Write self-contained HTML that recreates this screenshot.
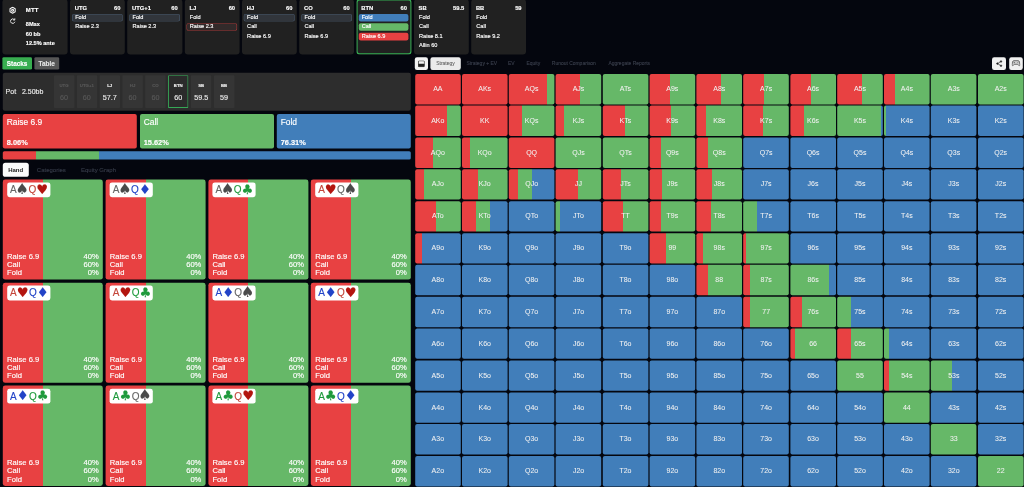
<!DOCTYPE html><html lang="en"><head><meta charset="utf-8"><title>Preflop strategy</title><style>
*{box-sizing:border-box;margin:0;padding:0}
html,body{width:1024px;height:487px;overflow:hidden;background:#04060e}
body{font-family:"Liberation Sans",sans-serif;color:#fff;-webkit-text-stroke:.35px currentColor}
#app{position:absolute;left:0;top:0;width:2560px;height:1218px;transform:scale(.4);transform-origin:0 0;background:#04060e;overflow:hidden}
.abs{position:absolute}
.card{position:absolute;top:-2px;height:138px;width:137.25px;background:#212121;border-radius:8px;font-size:14px}
.card.active{box-shadow:inset 0 0 0 3px #35ad52}
.card .hd{position:absolute;left:12px;right:11px;top:11.5px;font-weight:700;font-size:14.5px;line-height:18px;display:flex;justify-content:space-between}
.card .act{position:absolute;left:4.5px;right:5.5px;height:19px;line-height:16.5px;padding-left:8.5px;border-radius:5px;font-size:14px;white-space:nowrap}
.card .act.sel{background:#31353b;box-shadow:inset 0 0 0 1.5px #46586d}
.card .act.selr{background:#322a2a;box-shadow:inset 0 0 0 1.5px #c23a3a}
.card .act.b{background:#417eba}.card .act.g{background:#66b868}.card .act.r{background:#e84142}
.btn{position:absolute;top:143px;height:30.5px;border-radius:3.5px;font-weight:700;font-size:16px;line-height:31px;text-align:center}
.pot{position:absolute;left:7px;top:182px;width:1020px;height:95px;background:#2d2d2d;border-radius:5px;color:#ececec}
.stk{position:absolute;top:5.5px;width:51px;height:82px;background:#353535;border-radius:2px;text-align:center}
.stk .l{position:absolute;left:0;right:0;top:19px;font-size:10.8px;font-weight:700;line-height:14px}
.stk .v{position:absolute;left:0;right:0;top:45px;font-size:18px;line-height:22px}
.stk.dim{color:#585858}
.stk.cur{box-shadow:inset 0 0 0 2.2px #36a856;background:#2b2b2b}
.abox{position:absolute;top:284.5px;height:86.5px;width:334.8px;border-radius:5px}
.abox .n{position:absolute;left:9.5px;top:9px;font-size:21px;line-height:24px}
.abox .p{position:absolute;left:9.5px;top:61.5px;font-size:18.5px;line-height:20px;font-weight:700}
.tab{position:absolute;top:406.5px;height:35px;line-height:35px;font-size:15px;color:#353a47;white-space:nowrap}
.tab.on{background:#fbfbfb;color:#222;border-radius:6.5px;text-align:center;font-weight:700;-webkit-text-stroke:0}
.hc{position:absolute;width:250px;height:250.5px;border-radius:6px;background:linear-gradient(90deg,#e84142 0 40%,#66b868 40% 100%);font-size:19px}
.hc .pill{position:absolute;left:10.5px;top:7.5px;width:108px;height:37px;background:#fff;border-radius:6px;font-size:25px;line-height:37px;white-space:nowrap;padding-left:7.5px;-webkit-text-stroke:.3px currentColor}
.hc .rows{position:absolute;left:10.5px;right:10.5px;top:182.5px;line-height:20.6px}
.hc .rows div{display:flex;justify-content:space-between}
.s{font-family:"DejaVu Sans","Liberation Sans",sans-serif;font-size:33px;line-height:30px;vertical-align:-2px;letter-spacing:-1px}
.cs{color:#4a4a4a;font-size:37px;margin:0 -2px 0 -3px}.ch{color:#b3150f}.cd{color:#2243c7}.cc{color:#1f9a3c}
.rs{color:#666}.rh{color:#c4453a}.rd{color:#2243c7}.rc{color:#1f9a3c}
.tb{position:absolute;top:143px;height:31.5px;border-radius:5.5px;background:#ebebeb}
.tt{position:absolute;top:143px;height:31.5px;line-height:31.5px;font-size:12.4px;color:#383d4a;white-space:nowrap}
.mc{position:absolute;width:114px;height:76.2px;border-radius:5px;font-size:17.5px;line-height:75.4px;text-align:center;color:#f2f2f2;-webkit-text-stroke:.1px currentColor}
</style></head><body><div id="app">
<div class="card" style="left:6px;width:163px">
<svg class="abs" style="left:15.5px;top:17.5px" width="19" height="19" viewBox="0 0 24 24" fill="none" stroke="#f4f4f4" stroke-width="3.3" stroke-linejoin="round"><path d="M12 2.5l8.2 4.75v9.5L12 21.5l-8.2-4.75v-9.5z"/><circle cx="12" cy="12" r="3.2"/></svg>
<svg class="abs" style="left:17.5px;top:46.5px" width="16" height="16" viewBox="0 0 24 24" fill="none" stroke="#f4f4f4" stroke-width="3.4" stroke-linecap="round" stroke-linejoin="round"><path d="M19.5 15.5A8.5 8.5 0 1 1 18 6"/><path d="M19.500 2.500v5h-5" stroke-width="3"/></svg>
<div class="abs" style="left:58.5px;top:16px;font-size:15px;font-weight:700;line-height:20px;letter-spacing:.5px">MTT</div>
<div class="abs" style="left:58.5px;top:49px;font-size:14px;font-weight:700;line-height:24.5px;white-space:nowrap"><div>8Max</div><div>60 bb</div><div>12.5% ante</div></div>
</div>
<div class="card" style="left:175px">
<div class="hd" style="margin:0px 0px 0 0px"><span>UTG</span><span>60</span></div>
<div class="act sel" style="top:37px">Fold</div>
<div class="act " style="top:60.3px">Raise 2.3</div>
</div>
<div class="card" style="left:318.25px">
<div class="hd" style="margin:0px 0px 0 0px"><span>UTG+1</span><span>60</span></div>
<div class="act sel" style="top:37px">Fold</div>
<div class="act " style="top:60.3px">Raise 2.3</div>
</div>
<div class="card" style="left:461.5px">
<div class="hd" style="margin:0px 0px 0 0px"><span>LJ</span><span>60</span></div>
<div class="act " style="top:37px">Fold</div>
<div class="act selr" style="top:60.3px">Raise 2.3</div>
</div>
<div class="card" style="left:604.75px">
<div class="hd" style="margin:0px 0px 0 0px"><span>HJ</span><span>60</span></div>
<div class="act sel" style="top:37px">Fold</div>
<div class="act " style="top:60.3px">Call</div>
<div class="act " style="top:83.6px">Raise 6.9</div>
</div>
<div class="card" style="left:748px">
<div class="hd" style="margin:0px 0px 0 0px"><span>CO</span><span>60</span></div>
<div class="act sel" style="top:37px">Fold</div>
<div class="act " style="top:60.3px">Call</div>
<div class="act " style="top:83.6px">Raise 6.9</div>
</div>
<div class="card active" style="left:891.25px">
<div class="hd" style="margin:0px 0px 0 0px"><span>BTN</span><span>60</span></div>
<div class="act b" style="top:37px;left:5.5px;right:7.5px;padding-left:7.5px">Fold</div>
<div class="act g" style="top:60.3px;left:5.5px;right:7.5px;padding-left:7.5px">Call</div>
<div class="act r" style="top:83.6px;left:5.5px;right:7.5px;padding-left:7.5px">Raise 6.9</div>
</div>
<div class="card" style="left:1034.5px">
<div class="hd" style="margin:0px 0px 0 0px"><span>SB</span><span>59.5</span></div>
<div class="act " style="top:37px">Fold</div>
<div class="act " style="top:60.3px">Call</div>
<div class="act " style="top:83.6px">Raise 8.1</div>
<div class="act " style="top:106.9px">Allin 60</div>
</div>
<div class="card" style="left:1177.75px">
<div class="hd" style="margin:0px 0px 0 0px"><span>BB</span><span>59</span></div>
<div class="act " style="top:37px">Fold</div>
<div class="act " style="top:60.3px">Call</div>
<div class="act " style="top:83.6px">Raise 9.2</div>
</div>
<div class="btn" style="left:6px;width:73.5px;background:#38ae50">Stacks</div>
<div class="btn" style="left:86px;width:61.5px;background:#565656;color:#e4e4e4">Table</div>
<div class="pot"><div class="abs" style="left:7px;top:35px;font-size:17.5px;line-height:22px;white-space:pre">Pot   2.50bb</div>
<div class="stk dim" style="left:127.5px"><div class="l">UTG</div><div class="v">60</div></div>
<div class="stk dim" style="left:184.65px"><div class="l">UTG+1</div><div class="v">60</div></div>
<div class="stk " style="left:241.8px"><div class="l">LJ</div><div class="v">57.7</div></div>
<div class="stk dim" style="left:298.95px"><div class="l">HJ</div><div class="v">60</div></div>
<div class="stk dim" style="left:356.1px"><div class="l">CO</div><div class="v">60</div></div>
<div class="stk cur" style="left:413.25px"><div class="l">BTN</div><div class="v">60</div></div>
<div class="stk " style="left:470.4px"><div class="l">SB</div><div class="v">59.5</div></div>
<div class="stk " style="left:527.55px"><div class="l">BB</div><div class="v">59</div></div>
</div>
<div class="abox" style="left:7.4px;background:#e84142"><div class="n">Raise 6.9</div><div class="p">8.06%</div></div>
<div class="abox" style="left:349.8px;background:#66b868"><div class="n">Call</div><div class="p">15.62%</div></div>
<div class="abox" style="left:692.2px;background:#417eba"><div class="n">Fold</div><div class="p">76.31%</div></div>
<div class="abs" style="left:7.4px;top:378.25px;width:1019.6px;height:20.5px;border-radius:4px;background:linear-gradient(90deg,#e84142 0 8.06%,#66b868 8.06% 23.68%,#417eba 23.68% 100%)"></div>
<div class="tab on" style="left:7px;width:64.5px">Hand</div>
<div class="tab" style="left:92px">Categories</div>
<div class="tab" style="left:202.5px">Equity Graph</div>
<div class="hc" style="left:7.25px;top:448.75px"><div class="pill"><span class="rs">A</span><span class="s cs">♠</span><span class="rh" style="margin-left:2px">Q</span><span class="s ch">♥</span></div>
<div class="rows"><div><span>Raise 6.9</span><span>40%</span></div><div><span>Call</span><span>60%</span></div><div><span>Fold</span><span>0%</span></div></div></div>
<div class="hc" style="left:263.95px;top:448.75px"><div class="pill"><span class="rs">A</span><span class="s cs">♠</span><span class="rd" style="margin-left:2px">Q</span><span class="s cd">♦</span></div>
<div class="rows"><div><span>Raise 6.9</span><span>40%</span></div><div><span>Call</span><span>60%</span></div><div><span>Fold</span><span>0%</span></div></div></div>
<div class="hc" style="left:520.65px;top:448.75px"><div class="pill"><span class="rs">A</span><span class="s cs">♠</span><span class="rc" style="margin-left:2px">Q</span><span class="s cc">♣</span></div>
<div class="rows"><div><span>Raise 6.9</span><span>40%</span></div><div><span>Call</span><span>60%</span></div><div><span>Fold</span><span>0%</span></div></div></div>
<div class="hc" style="left:777.35px;top:448.75px"><div class="pill"><span class="rh">A</span><span class="s ch">♥</span><span class="rs" style="margin-left:2px">Q</span><span class="s cs">♠</span></div>
<div class="rows"><div><span>Raise 6.9</span><span>40%</span></div><div><span>Call</span><span>60%</span></div><div><span>Fold</span><span>0%</span></div></div></div>
<div class="hc" style="left:7.25px;top:706.5px"><div class="pill"><span class="rh">A</span><span class="s ch">♥</span><span class="rd" style="margin-left:2px">Q</span><span class="s cd">♦</span></div>
<div class="rows"><div><span>Raise 6.9</span><span>40%</span></div><div><span>Call</span><span>60%</span></div><div><span>Fold</span><span>0%</span></div></div></div>
<div class="hc" style="left:263.95px;top:706.5px"><div class="pill"><span class="rh">A</span><span class="s ch">♥</span><span class="rc" style="margin-left:2px">Q</span><span class="s cc">♣</span></div>
<div class="rows"><div><span>Raise 6.9</span><span>40%</span></div><div><span>Call</span><span>60%</span></div><div><span>Fold</span><span>0%</span></div></div></div>
<div class="hc" style="left:520.65px;top:706.5px"><div class="pill"><span class="rd">A</span><span class="s cd">♦</span><span class="rs" style="margin-left:2px">Q</span><span class="s cs">♠</span></div>
<div class="rows"><div><span>Raise 6.9</span><span>40%</span></div><div><span>Call</span><span>60%</span></div><div><span>Fold</span><span>0%</span></div></div></div>
<div class="hc" style="left:777.35px;top:706.5px"><div class="pill"><span class="rd">A</span><span class="s cd">♦</span><span class="rh" style="margin-left:2px">Q</span><span class="s ch">♥</span></div>
<div class="rows"><div><span>Raise 6.9</span><span>40%</span></div><div><span>Call</span><span>60%</span></div><div><span>Fold</span><span>0%</span></div></div></div>
<div class="hc" style="left:7.25px;top:964.25px"><div class="pill"><span class="rd">A</span><span class="s cd">♦</span><span class="rc" style="margin-left:2px">Q</span><span class="s cc">♣</span></div>
<div class="rows"><div><span>Raise 6.9</span><span>40%</span></div><div><span>Call</span><span>60%</span></div><div><span>Fold</span><span>0%</span></div></div></div>
<div class="hc" style="left:263.95px;top:964.25px"><div class="pill"><span class="rc">A</span><span class="s cc">♣</span><span class="rs" style="margin-left:2px">Q</span><span class="s cs">♠</span></div>
<div class="rows"><div><span>Raise 6.9</span><span>40%</span></div><div><span>Call</span><span>60%</span></div><div><span>Fold</span><span>0%</span></div></div></div>
<div class="hc" style="left:520.65px;top:964.25px"><div class="pill"><span class="rc">A</span><span class="s cc">♣</span><span class="rh" style="margin-left:2px">Q</span><span class="s ch">♥</span></div>
<div class="rows"><div><span>Raise 6.9</span><span>40%</span></div><div><span>Call</span><span>60%</span></div><div><span>Fold</span><span>0%</span></div></div></div>
<div class="hc" style="left:777.35px;top:964.25px"><div class="pill"><span class="rc">A</span><span class="s cc">♣</span><span class="rd" style="margin-left:2px">Q</span><span class="s cd">♦</span></div>
<div class="rows"><div><span>Raise 6.9</span><span>40%</span></div><div><span>Call</span><span>60%</span></div><div><span>Fold</span><span>0%</span></div></div></div>
<div class="tb" style="left:1037.25px;width:32.5px;background:#f3f3f3"><svg class="abs" style="left:7.75px;top:7.5px" width="17" height="17" viewBox="0 0 18 18"><rect x="1" y="1" width="16" height="16" rx="2.5" fill="none" stroke="#222" stroke-width="2"/><rect x="1" y="9" width="16" height="8" rx="1.5" fill="#222"/></svg></div>
<div class="tb" style="left:1075.5px;width:76.5px"></div>
<div class="tt" style="left:1075.5px;width:76.5px;text-align:center;color:#5c5c5c;-webkit-text-stroke:.15px currentColor">Strategy</div>
<div class="tt" style="left:1166px">Strategy + EV</div>
<div class="tt" style="left:1270px">EV</div>
<div class="tt" style="left:1316px">Equity</div>
<div class="tt" style="left:1379.5px">Runout Comparison</div>
<div class="tt" style="left:1521px">Aggregate Reports</div>
<div class="tb" style="left:2480.25px;width:35px;background:#f0f0f0"><svg class="abs" style="left:8.5px;top:6.5px" width="18" height="18" viewBox="0 0 24 24" fill="#222" stroke="#222" stroke-width="2.2"><circle cx="18" cy="5" r="2.6"/><circle cx="6" cy="12" r="2.6"/><circle cx="18" cy="19" r="2.6"/><path d="M8.3 10.7l7.4-4.3M8.3 13.3l7.4 4.3" fill="none"/></svg></div>
<div class="tb" style="left:2522.75px;width:34.5px;background:#f0f0f0"><svg class="abs" style="left:6.5px;top:5.5px" width="22" height="19" viewBox="0 0 24 20" fill="#cdcdcd" stroke="#5a5a5a" stroke-width="2.3" stroke-linejoin="round"><path d="M6.500 2.500h11c2.200 0 3.500 1.400 4 3.600l1.300 7.400c.4 2.300-1.900 3.600-3.500 2L16.500 12.500h-9l-2.800 3c-1.600 1.600-3.900.3-3.500-2l1.300-7.400c.5-2.200 1.800-3.600 4-3.600z"/><path d="M7.500 6v3.400M5.800 7.700h3.400M15.500 7.700h2.600" stroke="#5a5a5a" stroke-width="1.500" fill="none"/></svg></div>
<div class="mc" style="left:1037.5px;top:184.5px;background:#e84142">AA</div>
<div class="mc" style="left:1154.77px;top:184.5px;background:#e84142">AKs</div>
<div class="mc" style="left:1272.04px;top:184.5px;background:linear-gradient(90deg,#e84142 0 84.5%,#66b868 84.5% 100%)">AQs</div>
<div class="mc" style="left:1389.31px;top:184.5px;background:linear-gradient(90deg,#e84142 0 54%,#66b868 54% 100%)">AJs</div>
<div class="mc" style="left:1506.58px;top:184.5px;background:#66b868">ATs</div>
<div class="mc" style="left:1623.85px;top:184.5px;background:linear-gradient(90deg,#e84142 0 45%,#66b868 45% 100%)">A9s</div>
<div class="mc" style="left:1741.12px;top:184.5px;background:linear-gradient(90deg,#e84142 0 54.5%,#66b868 54.5% 100%)">A8s</div>
<div class="mc" style="left:1858.39px;top:184.5px;background:linear-gradient(90deg,#e84142 0 45.5%,#66b868 45.5% 100%)">A7s</div>
<div class="mc" style="left:1975.66px;top:184.5px;background:linear-gradient(90deg,#e84142 0 45.5%,#66b868 45.5% 100%)">A6s</div>
<div class="mc" style="left:2092.93px;top:184.5px;background:linear-gradient(90deg,#e84142 0 54.5%,#66b868 54.5% 100%)">A5s</div>
<div class="mc" style="left:2210.2px;top:184.5px;background:linear-gradient(90deg,#e84142 0 25%,#66b868 25% 100%)">A4s</div>
<div class="mc" style="left:2327.47px;top:184.5px;background:#66b868">A3s</div>
<div class="mc" style="left:2444.74px;top:184.5px;background:#66b868">A2s</div>
<div class="mc" style="left:1037.5px;top:264.1px;background:linear-gradient(90deg,#e84142 0 70%,#66b868 70% 100%)">AKo</div>
<div class="mc" style="left:1154.77px;top:264.1px;background:#e84142">KK</div>
<div class="mc" style="left:1272.04px;top:264.1px;background:linear-gradient(90deg,#e84142 0 29.5%,#66b868 29.5% 100%)">KQs</div>
<div class="mc" style="left:1389.31px;top:264.1px;background:linear-gradient(90deg,#e84142 0 19%,#66b868 19% 100%)">KJs</div>
<div class="mc" style="left:1506.58px;top:264.1px;background:linear-gradient(90deg,#e84142 0 49.5%,#66b868 49.5% 100%)">KTs</div>
<div class="mc" style="left:1623.85px;top:264.1px;background:linear-gradient(90deg,#e84142 0 47%,#66b868 47% 100%)">K9s</div>
<div class="mc" style="left:1741.12px;top:264.1px;background:linear-gradient(90deg,#e84142 0 22%,#66b868 22% 100%)">K8s</div>
<div class="mc" style="left:1858.39px;top:264.1px;background:linear-gradient(90deg,#e84142 0 43%,#66b868 43% 100%)">K7s</div>
<div class="mc" style="left:1975.66px;top:264.1px;background:linear-gradient(90deg,#e84142 0 30%,#66b868 30% 100%)">K6s</div>
<div class="mc" style="left:2092.93px;top:264.1px;background:linear-gradient(90deg,#66b868 0% 96%,#417eba 96% 100%)">K5s</div>
<div class="mc" style="left:2210.2px;top:264.1px;background:linear-gradient(90deg,#66b868 0% 4%,#417eba 4% 100%)">K4s</div>
<div class="mc" style="left:2327.47px;top:264.1px;background:#417eba">K3s</div>
<div class="mc" style="left:2444.74px;top:264.1px;background:#417eba">K2s</div>
<div class="mc" style="left:1037.5px;top:343.7px;background:linear-gradient(90deg,#e84142 0 40%,#66b868 40% 100%)">AQo</div>
<div class="mc" style="left:1154.77px;top:343.7px;background:linear-gradient(90deg,#e84142 0 18%,#66b868 18% 100%)">KQo</div>
<div class="mc" style="left:1272.04px;top:343.7px;background:#e84142">QQ</div>
<div class="mc" style="left:1389.31px;top:343.7px;background:#66b868">QJs</div>
<div class="mc" style="left:1506.58px;top:343.7px;background:#66b868">QTs</div>
<div class="mc" style="left:1623.85px;top:343.7px;background:linear-gradient(90deg,#e84142 0 24.5%,#66b868 24.5% 100%)">Q9s</div>
<div class="mc" style="left:1741.12px;top:343.7px;background:linear-gradient(90deg,#e84142 0 24.5%,#66b868 24.5% 100%)">Q8s</div>
<div class="mc" style="left:1858.39px;top:343.7px;background:#417eba">Q7s</div>
<div class="mc" style="left:1975.66px;top:343.7px;background:#417eba">Q6s</div>
<div class="mc" style="left:2092.93px;top:343.7px;background:#417eba">Q5s</div>
<div class="mc" style="left:2210.2px;top:343.7px;background:#417eba">Q4s</div>
<div class="mc" style="left:2327.47px;top:343.7px;background:#417eba">Q3s</div>
<div class="mc" style="left:2444.74px;top:343.7px;background:#417eba">Q2s</div>
<div class="mc" style="left:1037.5px;top:423.3px;background:linear-gradient(90deg,#e84142 0 19%,#66b868 19% 100%)">AJo</div>
<div class="mc" style="left:1154.77px;top:423.3px;background:linear-gradient(90deg,#e84142 0 35%,#66b868 35% 100%)">KJo</div>
<div class="mc" style="left:1272.04px;top:423.3px;background:linear-gradient(90deg,#e84142 0 20%,#66b868 20% 51%,#417eba 51% 100%)">QJo</div>
<div class="mc" style="left:1389.31px;top:423.3px;background:linear-gradient(90deg,#e84142 0 50%,#66b868 50% 100%)">JJ</div>
<div class="mc" style="left:1506.58px;top:423.3px;background:linear-gradient(90deg,#e84142 0 40%,#66b868 40% 100%)">JTs</div>
<div class="mc" style="left:1623.85px;top:423.3px;background:linear-gradient(90deg,#e84142 0 27.5%,#66b868 27.5% 100%)">J9s</div>
<div class="mc" style="left:1741.12px;top:423.3px;background:linear-gradient(90deg,#e84142 0 35%,#66b868 35% 100%)">J8s</div>
<div class="mc" style="left:1858.39px;top:423.3px;background:#417eba">J7s</div>
<div class="mc" style="left:1975.66px;top:423.3px;background:#417eba">J6s</div>
<div class="mc" style="left:2092.93px;top:423.3px;background:#417eba">J5s</div>
<div class="mc" style="left:2210.2px;top:423.3px;background:#417eba">J4s</div>
<div class="mc" style="left:2327.47px;top:423.3px;background:#417eba">J3s</div>
<div class="mc" style="left:2444.74px;top:423.3px;background:#417eba">J2s</div>
<div class="mc" style="left:1037.5px;top:502.9px;background:linear-gradient(90deg,#e84142 0 45%,#66b868 45% 100%)">ATo</div>
<div class="mc" style="left:1154.77px;top:502.9px;background:linear-gradient(90deg,#e84142 0 30.5%,#66b868 30.5% 61.5%,#417eba 61.5% 100%)">KTo</div>
<div class="mc" style="left:1272.04px;top:502.9px;background:#417eba">QTo</div>
<div class="mc" style="left:1389.31px;top:502.9px;background:linear-gradient(90deg,#66b868 0% 10%,#417eba 10% 100%)">JTo</div>
<div class="mc" style="left:1506.58px;top:502.9px;background:linear-gradient(90deg,#e84142 0 45%,#66b868 45% 100%)">TT</div>
<div class="mc" style="left:1623.85px;top:502.9px;background:linear-gradient(90deg,#e84142 0 24.5%,#66b868 24.5% 100%)">T9s</div>
<div class="mc" style="left:1741.12px;top:502.9px;background:linear-gradient(90deg,#e84142 0 32.5%,#66b868 32.5% 100%)">T8s</div>
<div class="mc" style="left:1858.39px;top:502.9px;background:linear-gradient(90deg,#66b868 0% 30.5%,#417eba 30.5% 100%)">T7s</div>
<div class="mc" style="left:1975.66px;top:502.9px;background:#417eba">T6s</div>
<div class="mc" style="left:2092.93px;top:502.9px;background:#417eba">T5s</div>
<div class="mc" style="left:2210.2px;top:502.9px;background:#417eba">T4s</div>
<div class="mc" style="left:2327.47px;top:502.9px;background:#417eba">T3s</div>
<div class="mc" style="left:2444.74px;top:502.9px;background:#417eba">T2s</div>
<div class="mc" style="left:1037.5px;top:582.5px;background:linear-gradient(90deg,#e84142 0 15%,#417eba 15% 100%)">A9o</div>
<div class="mc" style="left:1154.77px;top:582.5px;background:#417eba">K9o</div>
<div class="mc" style="left:1272.04px;top:582.5px;background:#417eba">Q9o</div>
<div class="mc" style="left:1389.31px;top:582.5px;background:#417eba">J9o</div>
<div class="mc" style="left:1506.58px;top:582.5px;background:#417eba">T9o</div>
<div class="mc" style="left:1623.85px;top:582.5px;background:linear-gradient(90deg,#e84142 0 35%,#66b868 35% 100%)">99</div>
<div class="mc" style="left:1741.12px;top:582.5px;background:linear-gradient(90deg,#e84142 0 15%,#66b868 15% 100%)">98s</div>
<div class="mc" style="left:1858.39px;top:582.5px;background:linear-gradient(90deg,#e84142 0 6.5%,#66b868 6.5% 100%)">97s</div>
<div class="mc" style="left:1975.66px;top:582.5px;background:#417eba">96s</div>
<div class="mc" style="left:2092.93px;top:582.5px;background:#417eba">95s</div>
<div class="mc" style="left:2210.2px;top:582.5px;background:#417eba">94s</div>
<div class="mc" style="left:2327.47px;top:582.5px;background:#417eba">93s</div>
<div class="mc" style="left:2444.74px;top:582.5px;background:#417eba">92s</div>
<div class="mc" style="left:1037.5px;top:662.1px;background:#417eba">A8o</div>
<div class="mc" style="left:1154.77px;top:662.1px;background:#417eba">K8o</div>
<div class="mc" style="left:1272.04px;top:662.1px;background:#417eba">Q8o</div>
<div class="mc" style="left:1389.31px;top:662.1px;background:#417eba">J8o</div>
<div class="mc" style="left:1506.58px;top:662.1px;background:#417eba">T8o</div>
<div class="mc" style="left:1623.85px;top:662.1px;background:#417eba">98o</div>
<div class="mc" style="left:1741.12px;top:662.1px;background:linear-gradient(90deg,#e84142 0 25.5%,#66b868 25.5% 100%)">88</div>
<div class="mc" style="left:1858.39px;top:662.1px;background:linear-gradient(90deg,#e84142 0 14.5%,#66b868 14.5% 100%)">87s</div>
<div class="mc" style="left:1975.66px;top:662.1px;background:linear-gradient(90deg,#66b868 0% 85.5%,#417eba 85.5% 100%)">86s</div>
<div class="mc" style="left:2092.93px;top:662.1px;background:#417eba">85s</div>
<div class="mc" style="left:2210.2px;top:662.1px;background:#417eba">84s</div>
<div class="mc" style="left:2327.47px;top:662.1px;background:#417eba">83s</div>
<div class="mc" style="left:2444.74px;top:662.1px;background:#417eba">82s</div>
<div class="mc" style="left:1037.5px;top:741.7px;background:#417eba">A7o</div>
<div class="mc" style="left:1154.77px;top:741.7px;background:#417eba">K7o</div>
<div class="mc" style="left:1272.04px;top:741.7px;background:#417eba">Q7o</div>
<div class="mc" style="left:1389.31px;top:741.7px;background:#417eba">J7o</div>
<div class="mc" style="left:1506.58px;top:741.7px;background:#417eba">T7o</div>
<div class="mc" style="left:1623.85px;top:741.7px;background:#417eba">97o</div>
<div class="mc" style="left:1741.12px;top:741.7px;background:#417eba">87o</div>
<div class="mc" style="left:1858.39px;top:741.7px;background:linear-gradient(90deg,#e84142 0 15%,#66b868 15% 100%)">77</div>
<div class="mc" style="left:1975.66px;top:741.7px;background:linear-gradient(90deg,#e84142 0 24.5%,#66b868 24.5% 100%)">76s</div>
<div class="mc" style="left:2092.93px;top:741.7px;background:linear-gradient(90deg,#66b868 0% 30.5%,#417eba 30.5% 100%)">75s</div>
<div class="mc" style="left:2210.2px;top:741.7px;background:#417eba">74s</div>
<div class="mc" style="left:2327.47px;top:741.7px;background:#417eba">73s</div>
<div class="mc" style="left:2444.74px;top:741.7px;background:#417eba">72s</div>
<div class="mc" style="left:1037.5px;top:821.3px;background:#417eba">A6o</div>
<div class="mc" style="left:1154.77px;top:821.3px;background:#417eba">K6o</div>
<div class="mc" style="left:1272.04px;top:821.3px;background:#417eba">Q6o</div>
<div class="mc" style="left:1389.31px;top:821.3px;background:#417eba">J6o</div>
<div class="mc" style="left:1506.58px;top:821.3px;background:#417eba">T6o</div>
<div class="mc" style="left:1623.85px;top:821.3px;background:#417eba">96o</div>
<div class="mc" style="left:1741.12px;top:821.3px;background:#417eba">86o</div>
<div class="mc" style="left:1858.39px;top:821.3px;background:#417eba">76o</div>
<div class="mc" style="left:1975.66px;top:821.3px;background:linear-gradient(90deg,#e84142 0 10%,#66b868 10% 100%)">66</div>
<div class="mc" style="left:2092.93px;top:821.3px;background:linear-gradient(90deg,#e84142 0 30%,#66b868 30% 100%)">65s</div>
<div class="mc" style="left:2210.2px;top:821.3px;background:linear-gradient(90deg,#66b868 0% 10%,#417eba 10% 100%)">64s</div>
<div class="mc" style="left:2327.47px;top:821.3px;background:#417eba">63s</div>
<div class="mc" style="left:2444.74px;top:821.3px;background:#417eba">62s</div>
<div class="mc" style="left:1037.5px;top:900.9px;background:#417eba">A5o</div>
<div class="mc" style="left:1154.77px;top:900.9px;background:#417eba">K5o</div>
<div class="mc" style="left:1272.04px;top:900.9px;background:#417eba">Q5o</div>
<div class="mc" style="left:1389.31px;top:900.9px;background:#417eba">J5o</div>
<div class="mc" style="left:1506.58px;top:900.9px;background:#417eba">T5o</div>
<div class="mc" style="left:1623.85px;top:900.9px;background:#417eba">95o</div>
<div class="mc" style="left:1741.12px;top:900.9px;background:#417eba">85o</div>
<div class="mc" style="left:1858.39px;top:900.9px;background:#417eba">75o</div>
<div class="mc" style="left:1975.66px;top:900.9px;background:#417eba">65o</div>
<div class="mc" style="left:2092.93px;top:900.9px;background:#66b868">55</div>
<div class="mc" style="left:2210.2px;top:900.9px;background:linear-gradient(90deg,#e84142 0 10%,#66b868 10% 100%)">54s</div>
<div class="mc" style="left:2327.47px;top:900.9px;background:linear-gradient(90deg,#66b868 0% 45.5%,#417eba 45.5% 100%)">53s</div>
<div class="mc" style="left:2444.74px;top:900.9px;background:#417eba">52s</div>
<div class="mc" style="left:1037.5px;top:980.5px;background:#417eba">A4o</div>
<div class="mc" style="left:1154.77px;top:980.5px;background:#417eba">K4o</div>
<div class="mc" style="left:1272.04px;top:980.5px;background:#417eba">Q4o</div>
<div class="mc" style="left:1389.31px;top:980.5px;background:#417eba">J4o</div>
<div class="mc" style="left:1506.58px;top:980.5px;background:#417eba">T4o</div>
<div class="mc" style="left:1623.85px;top:980.5px;background:#417eba">94o</div>
<div class="mc" style="left:1741.12px;top:980.5px;background:#417eba">84o</div>
<div class="mc" style="left:1858.39px;top:980.5px;background:#417eba">74o</div>
<div class="mc" style="left:1975.66px;top:980.5px;background:#417eba">64o</div>
<div class="mc" style="left:2092.93px;top:980.5px;background:#417eba">54o</div>
<div class="mc" style="left:2210.2px;top:980.5px;background:#66b868">44</div>
<div class="mc" style="left:2327.47px;top:980.5px;background:#417eba">43s</div>
<div class="mc" style="left:2444.74px;top:980.5px;background:#417eba">42s</div>
<div class="mc" style="left:1037.5px;top:1060.1px;background:#417eba">A3o</div>
<div class="mc" style="left:1154.77px;top:1060.1px;background:#417eba">K3o</div>
<div class="mc" style="left:1272.04px;top:1060.1px;background:#417eba">Q3o</div>
<div class="mc" style="left:1389.31px;top:1060.1px;background:#417eba">J3o</div>
<div class="mc" style="left:1506.58px;top:1060.1px;background:#417eba">T3o</div>
<div class="mc" style="left:1623.85px;top:1060.1px;background:#417eba">93o</div>
<div class="mc" style="left:1741.12px;top:1060.1px;background:#417eba">83o</div>
<div class="mc" style="left:1858.39px;top:1060.1px;background:#417eba">73o</div>
<div class="mc" style="left:1975.66px;top:1060.1px;background:#417eba">63o</div>
<div class="mc" style="left:2092.93px;top:1060.1px;background:#417eba">53o</div>
<div class="mc" style="left:2210.2px;top:1060.1px;background:#417eba">43o</div>
<div class="mc" style="left:2327.47px;top:1060.1px;background:#66b868">33</div>
<div class="mc" style="left:2444.74px;top:1060.1px;background:#417eba">32s</div>
<div class="mc" style="left:1037.5px;top:1139.7px;background:#417eba">A2o</div>
<div class="mc" style="left:1154.77px;top:1139.7px;background:#417eba">K2o</div>
<div class="mc" style="left:1272.04px;top:1139.7px;background:#417eba">Q2o</div>
<div class="mc" style="left:1389.31px;top:1139.7px;background:#417eba">J2o</div>
<div class="mc" style="left:1506.58px;top:1139.7px;background:#417eba">T2o</div>
<div class="mc" style="left:1623.85px;top:1139.7px;background:#417eba">92o</div>
<div class="mc" style="left:1741.12px;top:1139.7px;background:#417eba">82o</div>
<div class="mc" style="left:1858.39px;top:1139.7px;background:#417eba">72o</div>
<div class="mc" style="left:1975.66px;top:1139.7px;background:#417eba">62o</div>
<div class="mc" style="left:2092.93px;top:1139.7px;background:#417eba">52o</div>
<div class="mc" style="left:2210.2px;top:1139.7px;background:#417eba">42o</div>
<div class="mc" style="left:2327.47px;top:1139.7px;background:#417eba">32o</div>
<div class="mc" style="left:2444.74px;top:1139.7px;background:#66b868">22</div>
</div></body></html>
